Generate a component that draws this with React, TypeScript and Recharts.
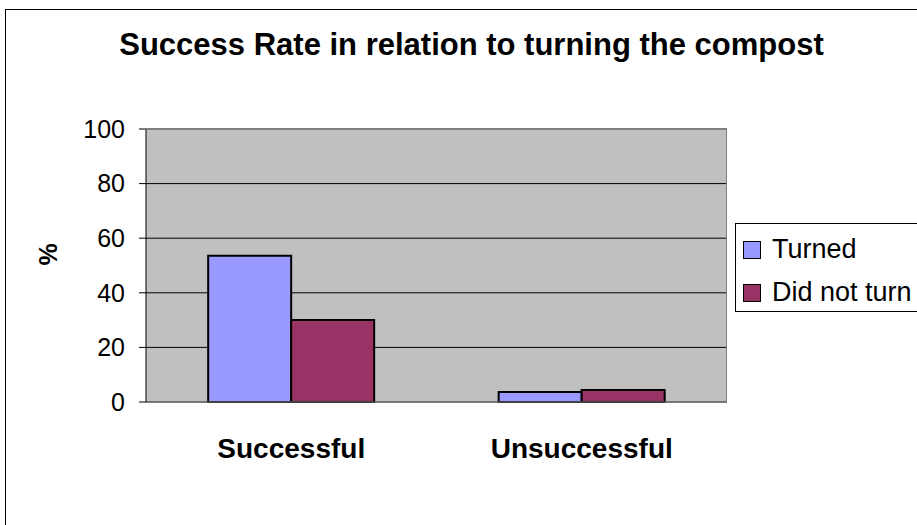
import React from 'react';
import { BarChart, Bar, XAxis, YAxis, CartesianGrid, Label } from 'recharts';

const categories = ['Successful', 'Unsuccessful'];
const turned = [53.6, 3.7];
const didNotTurn = [30, 4.4];
const yTicks = [0, 20, 40, 60, 80, 100];

const SERIES = [
  { key: 'turned', name: 'Turned', color: '#9999FF' },
  { key: 'didNotTurn', name: 'Did not turn', color: '#993366' },
];

const data = categories.map((name, i) => ({ name, turned: turned[i], didNotTurn: didNotTurn[i] }));

const FONT = '"Liberation Sans", Arial, sans-serif';

// legend drawn as a plain box, recharts' Legend would eat chart height
const LegendBox = () => (
  <div style={{ position: 'absolute', left: 735, top: 223, width: 220, height: 89, boxSizing: 'border-box', border: '1px solid #000', background: '#fff', paddingTop: 4, paddingLeft: 7 }}>
    {SERIES.map(s => (
      <div key={s.key} style={{ display: 'flex', alignItems: 'center', height: 43 }}>
        <span style={{ width: 18, height: 18, boxSizing: 'border-box', background: s.color, border: '1px solid #000', marginRight: 11 }} />
        <span style={{ fontSize: 27, color: '#000', lineHeight: '31px' }}>{s.name}</span>
      </div>
    ))}
  </div>
);

export default function App() {
  return (
    <div style={{ position: 'absolute', left: 0, top: 0, width: 917, height: 525, overflow: 'hidden', background: '#fff', fontFamily: FONT }}>
      <div style={{ position: 'absolute', left: 5, top: 9, width: 1000, height: 1000, border: '1px solid #000' }} />
      <div style={{ position: 'absolute', left: 0, top: 27, width: 943, textAlign: 'center', fontSize: 31, fontWeight: 'bold', color: '#000' }}>
        Success Rate in relation to turning the compost
      </div>
      <div style={{ position: 'absolute', left: 0, top: 0 }}>
        <BarChart width={917} height={525} data={data} margin={{ top: 129, right: 190, bottom: 93, left: 0 }}
          barCategoryGap="21.4%" barGap={0}>
          <CartesianGrid stroke="#000" fill="#C0C0C0" vertical={false} />
          <XAxis dataKey="name" height={30} axisLine={{ stroke: '#808080' }} tickLine={false} tickMargin={30}
            tick={{ fill: '#000', fontSize: 28, fontWeight: 'bold', fontFamily: FONT }} />
          <YAxis width={146} domain={[0, 100]} ticks={yTicks} axisLine={{ stroke: '#000' }} tickLine={{ stroke: '#000' }}
            tickSize={7} tickMargin={14} tick={{ fill: '#000', fontSize: 25, fontFamily: FONT }}>
            <Label value="%" angle={-90} position="insideLeft" offset={48} style={{ fill: '#000', fontSize: 25, fontWeight: 'bold', fontFamily: FONT }} />
          </YAxis>
          {SERIES.map(s => (
            <Bar key={s.key} dataKey={s.key} name={s.name} fill={s.color} stroke="#000" strokeWidth={2} isAnimationActive={false} />
          ))}
        </BarChart>
      </div>
      <div style={{ position: 'absolute', left: 146, top: 129, width: 581, height: 273, border: '1px solid #808080', borderBottom: 'none', borderLeft: 'none', pointerEvents: 'none', boxSizing: 'border-box' }} />
      <LegendBox />
    </div>
  );
}
